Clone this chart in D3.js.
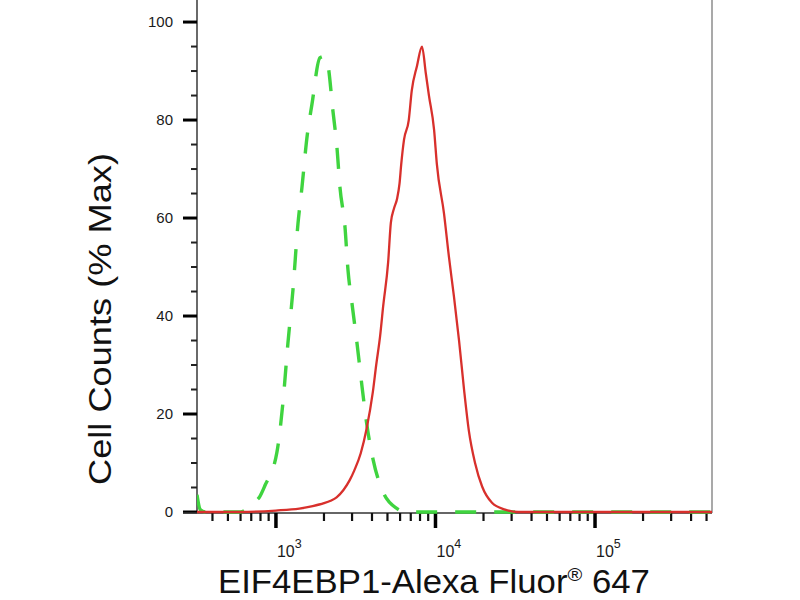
<!DOCTYPE html>
<html>
<head>
<meta charset="utf-8">
<script src="https://cdn.jsdelivr.net/npm/d3@7"></script>
<style>
  html, body { margin: 0; padding: 0; background: #fff; }
  svg { display: block; font-family: Arial, "Liberation Sans", sans-serif; }
</style>
</head>
<body>
<svg id="chart" width="800" height="600"></svg>
<script>
// ---- data (fluorescence intensity, % of max) ----
const redIntensity = [320, 600, 1000, 1400, 1700, 2000, 2200, 2400, 2650, 2900, 3100, 3400, 3700, 4050, 4250, 4500, 4700, 5050, 5250, 5500, 5750, 5950, 6100, 6350, 6800, 7100, 7650, 8230, 8700, 9100, 9800, 10200, 11300, 12150, 13050, 14050, 15100, 16200, 17700, 19600, 22600, 27300, 33000, 100000, 541000];
const redPercent   = [0, 0, 0.3, 0.7, 1.2, 1.8, 2.3, 3.0, 4.5, 6.5, 8.5, 12, 17, 24.5, 30, 36, 42, 51, 59, 62, 64, 67, 71, 76, 80, 86, 91, 95, 89.5, 85, 78, 71, 61, 52, 44, 35, 25, 16.5, 10, 5.2, 1.9, 0.5, 0, 0, 0];

const greenIntensity = [320, 335, 360, 600, 660, 710, 790, 853, 1014, 1106, 1189, 1278, 1374, 1456, 1564, 1681, 1888, 2028, 2118, 2277, 2412, 2518, 2708, 2828, 2995, 3220, 3461, 3722, 4057, 4688, 5738, 6500, 541000];
const greenPercent   = [3.5, 0.5, 0, 0, 0.7, 1.8, 3.1, 5.4, 12.2, 22.3, 34.5, 45.3, 58.8, 66.3, 76.4, 83.2, 92.7, 93, 91.3, 81.8, 74.4, 66.3, 58.2, 49.4, 42.6, 34.5, 25.7, 17.6, 10.8, 4.1, 0.7, 0, 0];

const xMajorTicks = [1e3, 1e4, 1e5];
const xMajorExponents = ["3", "4", "5"];
const yMajorTicks = [0, 20, 40, 60, 80, 100];
const yMinorTicks = d3.range(0, 101, 5);

const xTitleMain = "EIF4EBP1-Alexa Fluor";
const xTitleSup = "®";
const xTitleTail = " 647";
const yTitle = "Cell Counts (% Max)";

(function draw() {
  const svg = d3.select("#chart");
  const L = 197, R = 712, T = 0, B = 512;

  const x = d3.scaleLog().domain([320, 541000]).range([L, R]);
  const y = d3.scaleLinear().domain([0, 104.5]).range([B, T]);

  svg.append("defs").append("clipPath").attr("id", "plotclip")
    .append("rect").attr("x", L).attr("y", 0).attr("width", R - L).attr("height", B + 2);

  // right border (grey)
  svg.append("line")
    .attr("x1", R).attr("x2", R).attr("y1", 0).attr("y2", B + 1)
    .attr("stroke", "#a9a9a9").attr("stroke-width", 2);

  // ---- y axis ----
  const gy = svg.append("g");
  gy.append("line").attr("x1", L).attr("x2", L).attr("y1", 0).attr("y2", B + 1)
    .attr("stroke", "#444").attr("stroke-width", 1.6);
  gy.selectAll("line.minor").data(yMinorTicks.filter(v => v % 20 !== 0)).join("line")
    .attr("class", "minor")
    .attr("x1", L - 6).attr("x2", L).attr("y1", d => y(d)).attr("y2", d => y(d))
    .attr("stroke", "#222").attr("stroke-width", 2);
  gy.selectAll("line.major").data(yMajorTicks).join("line")
    .attr("class", "major")
    .attr("x1", L - 14).attr("x2", L).attr("y1", d => y(d)).attr("y2", d => y(d))
    .attr("stroke", "#000").attr("stroke-width", 3);
  gy.selectAll("text").data(yMajorTicks).join("text")
    .attr("x", L - 24).attr("y", d => y(d)).attr("dy", "0.36em")
    .attr("text-anchor", "end").attr("font-size", 15).attr("fill", "#1a1a1a")
    .text(d => d);

  // ---- x axis ----
  const gx = svg.append("g");
  gx.append("line").attr("x1", 183).attr("x2", R).attr("y1", B + 1).attr("y2", B + 1)
    .attr("stroke", "#333").attr("stroke-width", 1.6);
  const xMinor = [];
  [100, 1000, 10000, 100000].forEach(dec => {
    for (let m = 2; m <= 9; m++) {
      const v = m * dec;
      if (v >= 320 && v <= 541000) xMinor.push(v);
    }
  });
  gx.selectAll("line.minor").data(xMinor).join("line")
    .attr("class", "minor")
    .attr("x1", d => x(d)).attr("x2", d => x(d)).attr("y1", B + 1).attr("y2", B + 9)
    .attr("stroke", "#111").attr("stroke-width", 2.2);
  gx.selectAll("line.major").data(xMajorTicks).join("line")
    .attr("class", "major")
    .attr("x1", d => x(d)).attr("x2", d => x(d)).attr("y1", B + 1).attr("y2", B + 16)
    .attr("stroke", "#000").attr("stroke-width", 3.5);
  const xl = gx.selectAll("text").data(xMajorTicks).join("text")
    .attr("x", d => x(d) + 1).attr("y", 557)
    .attr("font-size", 16).attr("fill", "#1a1a1a");
  xl.append("tspan").text("10");
  xl.append("tspan").attr("font-size", 12.5).attr("dy", -9).text((d, i) => xMajorExponents[i]);

  // ---- curves ----
  const line = d3.line().x(d => x(d[0])).y(d => y(d[1])).curve(d3.curveMonotoneX);
  const plot = svg.append("g").attr("clip-path", "url(#plotclip)");

  const greenData = greenIntensity.map((v, i) => [v, greenPercent[i]]);
  const redData = redIntensity.map((v, i) => [v, redPercent[i]]);

  plot.append("path").datum(greenData)
    .attr("d", line).attr("fill", "none")
    .attr("stroke", "#3fd43f").attr("stroke-width", 3.4)
    .attr("stroke-dasharray", "21,18");

  plot.append("path").datum(redData)
    .attr("d", line).attr("fill", "none")
    .attr("stroke", "#d8302c").attr("stroke-width", 2.3)
    .attr("stroke-linejoin", "round");

  // ---- titles ----
  const xt = svg.append("text").attr("font-size", 33).attr("fill", "#111");
  xt.append("tspan").text(xTitleMain);
  xt.append("tspan").attr("font-size", 19).attr("dy", -12).text(xTitleSup);
  xt.append("tspan").attr("dy", 12).text(xTitleTail);
  const wx = xt.node().getBBox().width || 432;
  xt.attr("transform", `translate(218,593) scale(${432 / wx},1)`);

  const yt = svg.append("text").attr("font-size", 32).attr("fill", "#111")
    .attr("text-anchor", "middle").text(yTitle);
  const wy = yt.node().getBBox().width || 332;
  yt.attr("transform", `translate(111,319) rotate(-90) scale(${332 / wy},1)`);
})();
</script>
</body>
</html>
